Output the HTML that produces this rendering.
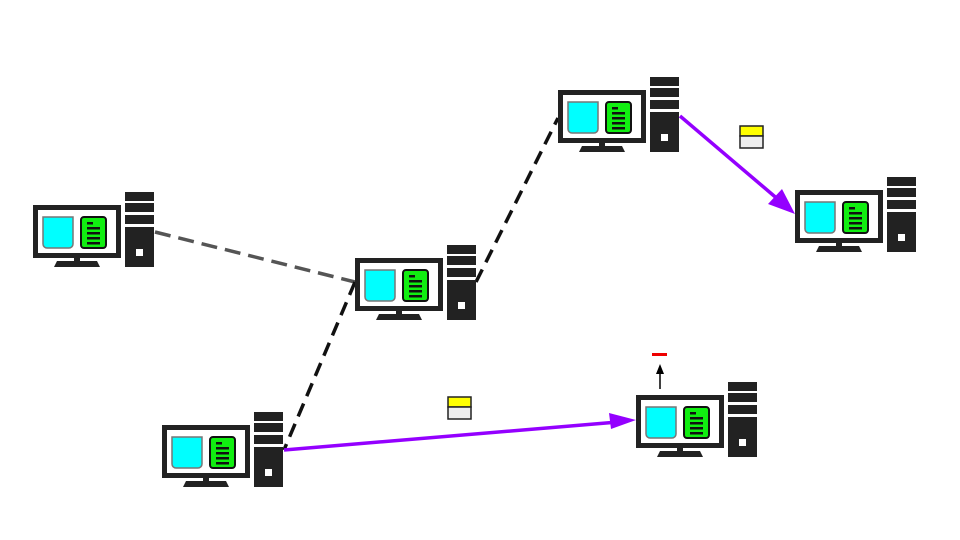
<!DOCTYPE html>
<html><head><style>html,body{margin:0;padding:0;background:#fff;}svg{display:block}</style></head>
<body>
<svg width="960" height="540" viewBox="0 0 960 540" xmlns="http://www.w3.org/2000/svg">
<defs>
<g id="pc">
  <rect x="2.5" y="2.5" width="83" height="48" fill="#fff" stroke="#222" stroke-width="5"/>
  <path d="M10,12 h30 v27 a4,4 0 0 1 -4,4 h-22 a4,4 0 0 1 -4,-4 z" fill="#00ffff" stroke="#777" stroke-width="1.5"/>
  <rect x="48" y="12" width="25" height="31" rx="3" fill="#11ee11" stroke="#111" stroke-width="2"/>
  <rect x="54" y="17" width="6" height="2.5" fill="#111"/>
  <rect x="54" y="22" width="13" height="2.5" fill="#111"/>
  <rect x="54" y="27" width="13" height="2.5" fill="#111"/>
  <rect x="54" y="32" width="13" height="2.5" fill="#111"/>
  <rect x="54" y="37" width="13" height="2.5" fill="#111"/>
  <rect x="41" y="53" width="6" height="3" fill="#222"/>
  <path d="M24,56 h40 l3,6 h-46 z" fill="#222"/>
  <rect x="92" y="-13" width="29" height="9" fill="#222"/>
  <rect x="92" y="-2" width="29" height="9" fill="#222"/>
  <rect x="92" y="10" width="29" height="9" fill="#222"/>
  <rect x="92" y="22" width="29" height="40" fill="#222"/>
  <rect x="103" y="44" width="7" height="7" fill="#fff"/>
</g>
<marker id="ah" markerWidth="10" markerHeight="10" refX="8" refY="5" orient="auto" markerUnits="userSpaceOnUse" viewBox="0 0 10 10">
</marker>
</defs>
<line x1="155" y1="232" x2="355" y2="282" stroke="#555" stroke-width="3.5" stroke-dasharray="16,8"/>
<line x1="355" y1="282" x2="284" y2="450" stroke="#111" stroke-width="3.5" stroke-dasharray="14,8"/>
<line x1="476" y1="282" x2="558" y2="118" stroke="#111" stroke-width="3.5" stroke-dasharray="14,8"/>
<line x1="680" y1="116" x2="780" y2="201" stroke="#9400ff" stroke-width="3.5"/>
<polygon points="795,214 768,204 782,189" fill="#9400ff"/>
<line x1="284" y1="450" x2="618" y2="422" stroke="#9400ff" stroke-width="3.5"/>
<polygon points="636,420 611,429 609,413" fill="#9400ff"/>
<use href="#pc" x="33" y="205"/>
<use href="#pc" x="355" y="258"/>
<use href="#pc" x="558" y="90"/>
<use href="#pc" x="795" y="190"/>
<use href="#pc" x="162" y="425"/>
<use href="#pc" x="636" y="395"/>
<rect x="740" y="126" width="23" height="10" fill="#ffff00" stroke="#222" stroke-width="1.5"/>
<rect x="740" y="136" width="23" height="12" fill="#eee" stroke="#222" stroke-width="1.5"/>
<rect x="448" y="397" width="23" height="10" fill="#ffff00" stroke="#222" stroke-width="1.5"/>
<rect x="448" y="407" width="23" height="12" fill="#eee" stroke="#222" stroke-width="1.5"/>
<line x1="660" y1="389" x2="660" y2="372" stroke="#000" stroke-width="1.5"/>
<polygon points="660,364 656,374 664,374" fill="#000"/>
<rect x="652" y="353" width="15" height="3" fill="#ee0000"/>
</svg>
</body></html>
